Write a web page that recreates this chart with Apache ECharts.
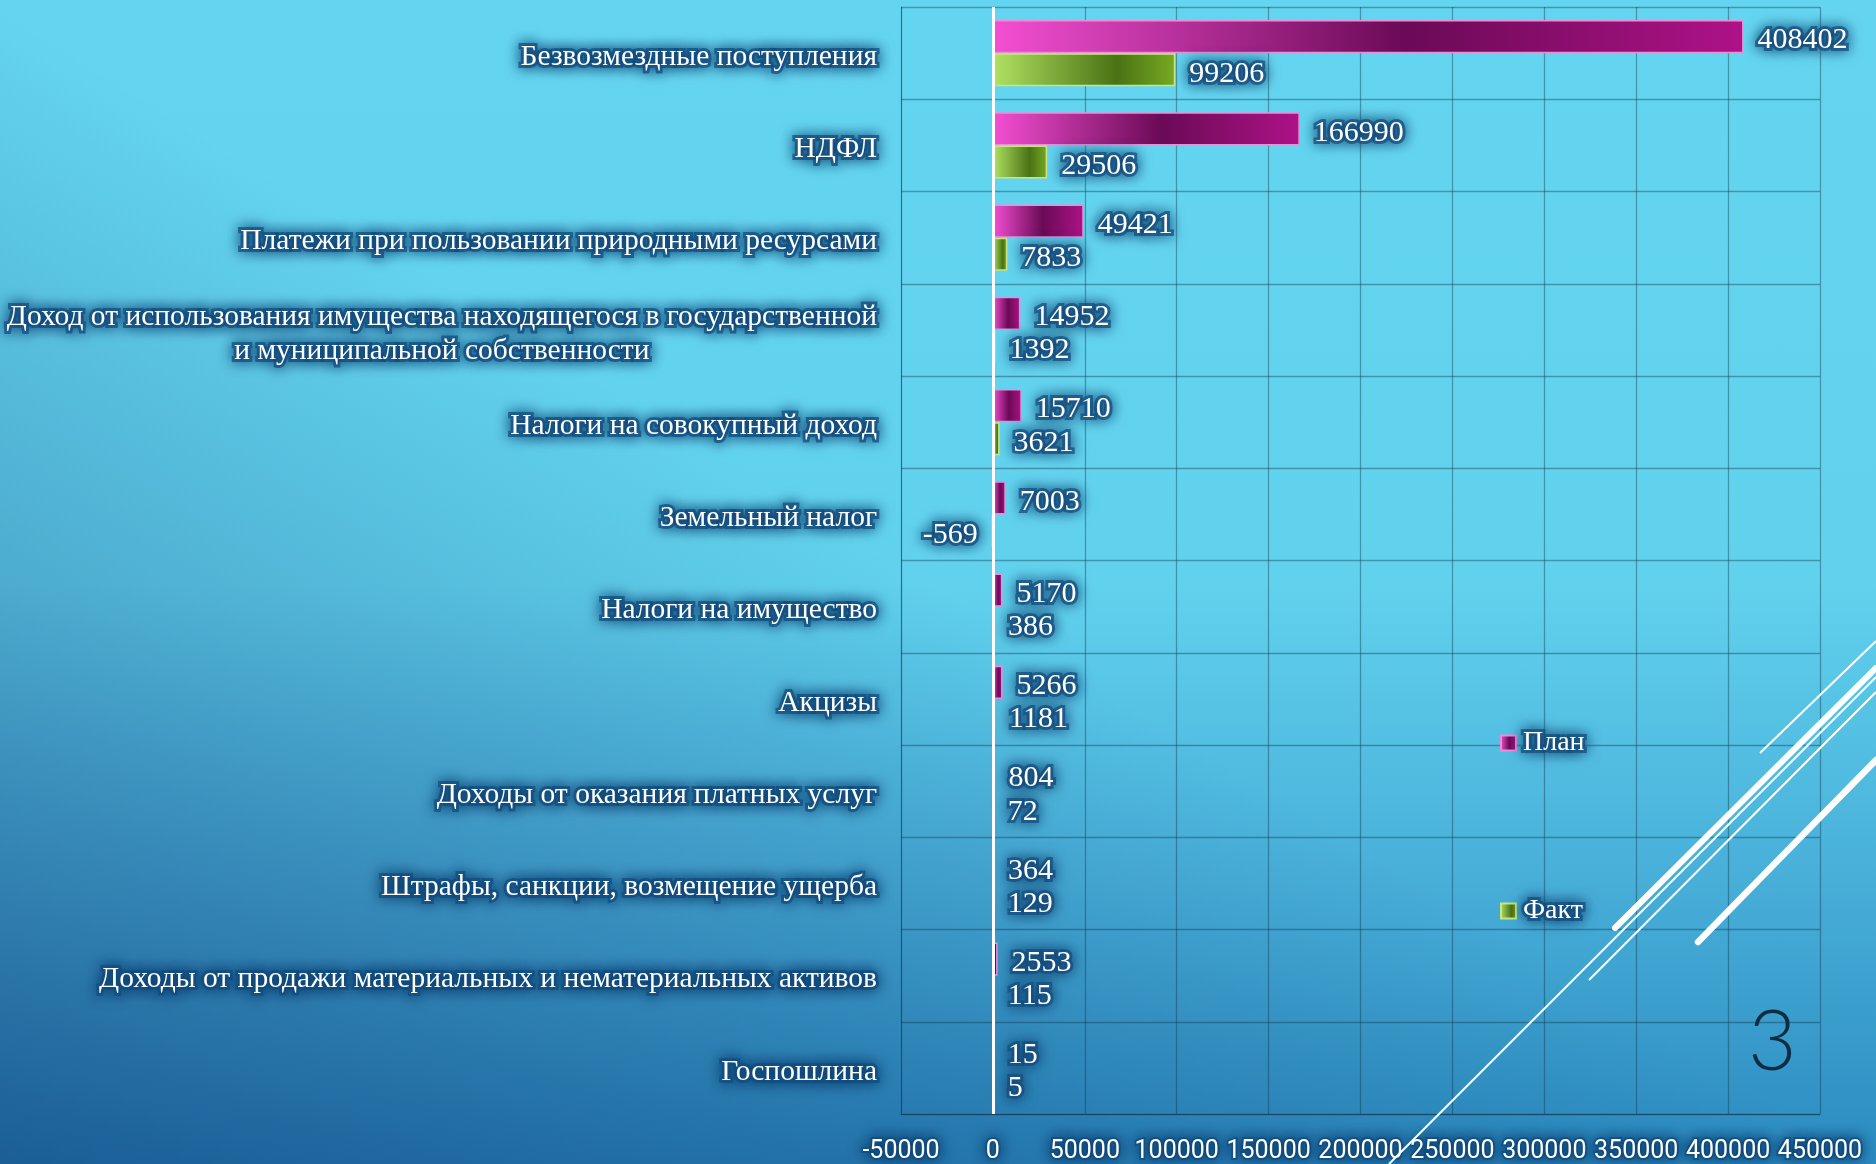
<!DOCTYPE html>
<html>
<head>
<meta charset="utf-8">
<script src="https://cdn.jsdelivr.net/npm/echarts@6/dist/echarts.min.js"></script>
<style>
  html, body { margin: 0; padding: 0; }
  #chart {
    width: 1876px;
    height: 1164px;
    background:
      linear-gradient(to top right, rgba(8, 40, 100, 0.45) 0%, rgba(8, 40, 100, 0) 50%),
      linear-gradient(to bottom, #64d5f0 0%, #61d2ee 50%, #47aed8 76%, #2b8bc0 100%);
  }
</style>
</head>
<body>
<div id="chart"></div>
<script>
// категории доходов (сверху вниз)
const categories = [
  'Безвозмездные поступления',
  'НДФЛ',
  'Платежи при пользовании природными ресурсами',
  'Доход от использования имущества находящегося в государственной\nи муниципальной собственности',
  'Налоги на совокупный доход',
  'Земельный налог',
  'Налоги на имущество',
  'Акцизы',
  'Доходы от оказания платных услуг',
  'Штрафы, санкции, возмещение ущерба',
  'Доходы от продажи материальных и нематериальных активов',
  'Госпошлина'
]
const planValues = [408402, 166990, 49421, 14952, 15710, 7003, 5170, 5266, 804, 364, 2553, 15]
const factValues = [99206, 29506, 7833, 1392, 3621, -569, 386, 1181, 72, 129, 115, 5]
const seriesNames = ['План', 'Факт']

// шкала X
const xMin = -50000
const xMax = 450000
const xStep = 50000

// белый текст с тёмно-синим свечением
const glow = {
  color: '#fff',
  textShadowColor: '#0b3a68',
  textShadowBlur: 14,
  textBorderColor: 'rgba(22, 80, 130, 0.75)',
  textBorderWidth: 6
}
const serif = '"Liberation Serif", "DejaVu Serif", serif'

const planColor = new echarts.graphic.LinearGradient(0, 0, 1, 0, [
  { offset: 0, color: '#f44fd2' },
  { offset: 0.55, color: '#6a0a56' },
  { offset: 1, color: '#ae1287' }
])
const factColor = new echarts.graphic.LinearGradient(0, 0, 1, 0, [
  { offset: 0, color: '#b0e262' },
  { offset: 0.68, color: '#4a7214' },
  { offset: 1, color: '#76aa22' }
])

// отрицательные значения подписываем слева
function withLabelSide(values) {
  return values.map(v => v < 0 ? { value: v, label: { position: 'left' } } : v)
}

const mycharts = echarts.init(document.getElementById('chart'))

mycharts.setOption({
  animation: false,
  grid: {
    left: 901,
    right: 56,
    top: 7,
    bottom: 50,
    containLabel: false,
    outerBoundsMode: 'none'
  },
  legend: {
    orient: 'vertical',
    left: 1495,
    top: 720,
    itemGap: 132,
    itemWidth: 15,
    itemHeight: 15,
    icon: 'rect',
    data: seriesNames,
    textStyle: Object.assign({ fontFamily: serif, fontSize: 28, lineHeight: 30, padding: [6, 0, 0, 2] }, glow)
  },
  xAxis: {
    type: 'value',
    min: xMin,
    max: xMax,
    interval: xStep,
    axisLine: { show: true, lineStyle: { color: 'rgba(20, 50, 70, 0.6)' } },
    axisTick: { show: false },
    splitLine: { show: true, lineStyle: { color: 'rgba(20, 50, 70, 0.4)', width: 1.3 } },
    axisLabel: Object.assign({
      margin: 25,
      showMinLabel: true,
      showMaxLabel: true,
      hideOverlap: false,
      formatter: v => String(v),
      fontFamily: 'Roboto, "DejaVu Sans Condensed", sans-serif',
      fontSize: 25
    }, glow, { textBorderWidth: 4 })
  },
  yAxis: {
    type: 'category',
    inverse: true,
    data: categories,
    axisLine: { show: true, onZero: false, lineStyle: { color: 'rgba(20, 50, 70, 0.4)' } },
    axisTick: { show: false },
    splitLine: { show: true, lineStyle: { color: 'rgba(20, 50, 70, 0.4)', width: 1.3 } },
    axisLabel: Object.assign({
      margin: 24,
      padding: [8, 0, 0, 0],
      fontFamily: serif,
      fontSize: 29.5,
      lineHeight: 34,
      formatter: function (v) {
        return v.split('\n').map(s => '{c|' + s + '}').join('\n')
      },
      rich: {
        c: Object.assign({ align: 'center', fontFamily: serif, fontSize: 29.5, lineHeight: 34 }, glow)
      }
    }, glow)
  },
  series: [
    {
      name: seriesNames[0],
      type: 'bar',
      data: withLabelSide(planValues),
      barGap: '0%',
      barCategoryGap: '28%',
      itemStyle: { color: planColor, borderColor: '#ea8ed8', borderWidth: 1.5 },
      label: Object.assign({ show: true, position: 'right', distance: 14, offset: [0, 4], fontFamily: serif, fontSize: 30 }, glow),
      markLine: {
        silent: true,
        symbol: 'none',
        label: { show: false },
        lineStyle: { color: '#fff', width: 3, type: 'solid' },
        data: [{ xAxis: 0 }]
      }
    },
    {
      name: seriesNames[1],
      type: 'bar',
      data: withLabelSide(factValues),
      itemStyle: { color: factColor, borderColor: '#c8e684', borderWidth: 1.5 },
      label: Object.assign({ show: true, position: 'right', distance: 14, offset: [0, 4], fontFamily: serif, fontSize: 30 }, glow)
    }
  ],
  // декоративные линии и номер слайда
  graphic: [
    { type: 'line', silent: true, z: 50, shape: { x1: 1760, y1: 753, x2: 1876, y2: 641 }, style: { stroke: '#fff', lineWidth: 2 } },
    { type: 'line', silent: true, z: 50, shape: { x1: 1615, y1: 928, x2: 1876, y2: 668 }, style: { stroke: '#fff', lineWidth: 6, lineCap: 'round' } },
    { type: 'line', silent: true, z: 50, shape: { x1: 1389, y1: 1164, x2: 1876, y2: 677 }, style: { stroke: '#fff', lineWidth: 2 } },
    { type: 'line', silent: true, z: 50, shape: { x1: 1589, y1: 980, x2: 1876, y2: 692 }, style: { stroke: '#fff', lineWidth: 2 } },
    { type: 'line', silent: true, z: 50, shape: { x1: 1698, y1: 942, x2: 1876, y2: 760 }, style: { stroke: '#fff', lineWidth: 6.5, lineCap: 'round' } },
    {
      type: 'text',
      silent: true,
      z: 50,
      left: 1748,
      top: 1001,
      style: { text: '3', fill: '#0e2d45', font: '300 84px Lato, "Open Sans", sans-serif' }
    }
  ]
})
</script>
</body>
</html>
